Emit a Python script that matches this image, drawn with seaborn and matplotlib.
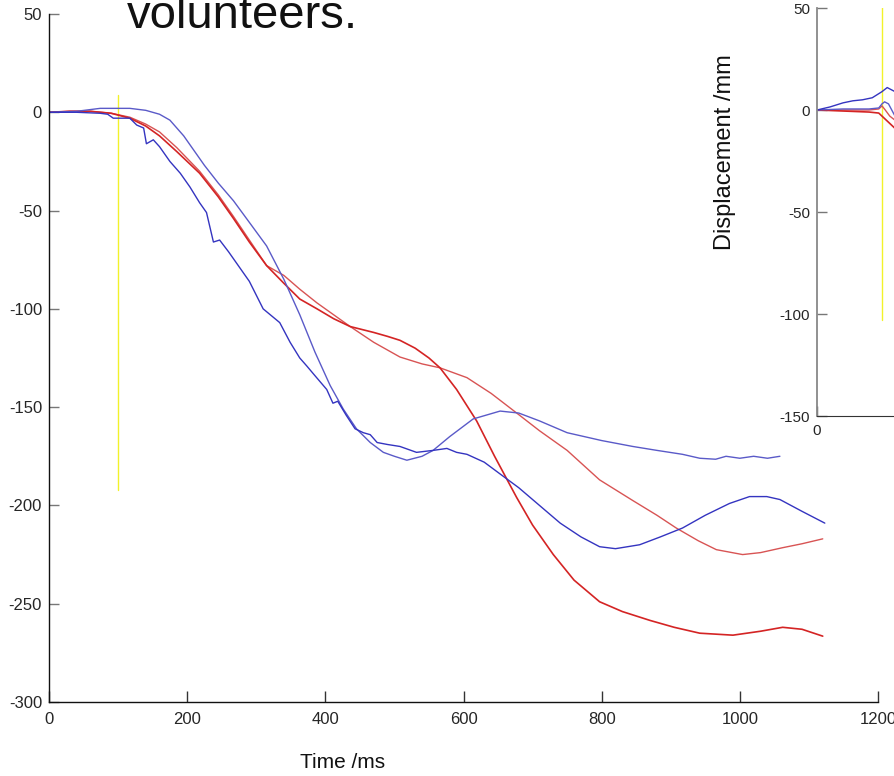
import numpy as np
import pandas as pd
import matplotlib
matplotlib.use("Agg")
import matplotlib.pyplot as plt
import seaborn as sns

# ================================
# COLOURS
# ================================
BLUE = "#3434c0"
BLUE_LIGHT = "#5a5ac8"
RED = "#d42424"
RED_LIGHT = "#d85454"
YELLOW = "#f2f22a"

# ================================
# DATA - main panel (time ms / displacement mm)
# ================================
blue_a_t = [0, 40, 74, 100, 117, 140, 160, 175, 195, 209, 225, 245, 267, 290, 315, 340,
            363, 385, 407, 426, 445, 465, 484, 500, 518, 540, 556, 580, 614, 653, 680, 710,
            750, 800, 845, 880, 917, 942, 965, 980, 1000, 1020, 1040, 1058]
blue_a_v = [0, 0.5, 2, 2, 2, 1, -1, -4, -12, -19, -27, -36, -45, -56, -68, -85,
            -103, -122, -139, -151, -161, -168, -173, -175, -177, -175, -172, -165, -156, -152, -153, -157,
            -163, -167, -170, -172, -174, -176, -176.5, -175, -176, -175, -176, -175]

blue_b_t = [0, 40, 74, 85, 93, 117, 127, 137, 141, 151, 160, 175, 190, 204, 218, 228, 238, 247,
            260, 272, 290, 310, 334, 349, 363, 373, 385, 402, 411, 418, 430, 443, 455, 465, 475,
            490, 508, 532, 556, 576, 590, 605, 630, 653, 680, 710, 740, 770, 797, 820, 855, 885,
            917, 950, 985, 1014, 1039, 1058, 1090, 1123]
blue_b_v = [0, 0, -0.5, -1, -3, -3, -6.5, -8, -16, -14, -17.5, -25, -31, -38, -46, -51, -66, -65,
            -71, -77, -86, -100, -107, -117, -125, -129, -134, -141, -148, -147, -154, -161, -163, -164, -168,
            -169, -170, -173, -172, -171, -173, -174, -178, -184, -191, -200, -209, -216, -221, -222, -220, -216,
            -211.5, -205, -199, -195.5, -195.5, -197, -203, -209]

red_a_t = [0, 30, 60, 90, 117, 140, 160, 185, 218, 245, 267, 290, 315, 340, 363, 388, 412, 436,
           470, 490, 508, 530, 550, 566, 590, 619, 645, 677, 700, 730, 760, 797, 830, 870, 905,
           942, 990, 1030, 1062, 1090, 1120]
red_a_v = [0, 0.5, 0.5, -0.5, -3, -7, -12, -20, -31, -43, -54, -66, -78, -87, -95, -100, -105, -109,
           -112, -114, -116, -120, -125, -130, -141, -157, -175, -196, -210, -225, -238, -249, -254, -258.5, -262,
           -265, -266, -264, -262, -263, -266.5]

red_b_t = [0, 30, 60, 90, 117, 140, 160, 185, 218, 245, 267, 290, 315, 340, 363, 388, 412, 436,
           470, 508, 540, 566, 605, 640, 677, 710, 750, 797, 845, 880, 908, 940, 966, 1004,
           1030, 1062, 1090, 1120]
red_b_v = [0, 0.5, 0.5, -0.5, -2.5, -6, -10, -18, -30, -42, -53, -65, -78, -83, -90, -97, -103, -109,
           -117, -124.5, -128, -130, -135, -143, -153, -162, -172, -187, -197.5, -205, -211.5, -218, -222.5, -225,
           -224, -221.5, -219.5, -217]

yellow_t = [100, 100]
yellow_v = [9, -192]

# ================================
# DATA - inset panel (left edge only)
# ================================
in_blue_a_t = [0, 20, 40, 55, 70, 85, 95, 100, 108, 120, 130]
in_blue_a_v = [0, 1.5, 3.5, 4.5, 5, 6, 8, 9, 11, 9, 8]
in_blue_b_t = [0, 40, 80, 95, 100, 104, 110, 115, 120]
in_blue_b_v = [0, 0.5, 0.5, 1, 3, 4, 3, 0, -3]
in_red_a_t = [0, 40, 80, 95, 100, 110, 120]
in_red_a_v = [0, -0.5, -1, -1.5, -3, -6, -9]
in_red_b_t = [0, 40, 80, 95, 100, 105, 112, 120]
in_red_b_v = [0, 0, 0, 0.5, 2, 0, -3, -5]
in_yellow_t = [100, 100]
in_yellow_v = [56, -103]

xticks = [0, 200, 400, 600, 800, 1000, 1200]
yticks_main = [-300, -250, -200, -150, -100, -50, 0, 50]
yticks_inset = [-150, -100, -50, 0, 50]
inset_xticklabels = ["0", "", "", "", "", "", ""]

# ================================
# FIGURE
# ================================
sns.set_style("white")
plt.rcParams["font.family"] = ["Liberation Sans Narrow", "Liberation Sans", "DejaVu Sans"]
plt.rcParams["axes.unicode_minus"] = False

fig = plt.figure(figsize=(8.94, 7.76), dpi=100)

ax = fig.add_axes([49 / 894, 1 - 702 / 776, 829 / 894, 688 / 776])


def line(a, t, v, color, lw=1.0):
    sns.lineplot(x=t, y=v, ax=a, color=color, lw=lw, sort=False, estimator=None)


line(ax, yellow_t, yellow_v, YELLOW)
line(ax, red_b_t, red_b_v, RED_LIGHT)
line(ax, red_a_t, red_a_v, RED, 1.2)
line(ax, blue_a_t, blue_a_v, BLUE_LIGHT)
line(ax, blue_b_t, blue_b_v, BLUE)

ax.set_xlim(0, 1200)
ax.set_ylim(-300, 50)
ax.set_xticks(xticks)
ax.set_yticks(yticks_main)
ax.set_xlabel("")
ax.set_ylabel("")
for s in ["top", "right"]:
    ax.spines[s].set_visible(False)
for s in ["left", "bottom"]:
    ax.spines[s].set_color("#111111")
    ax.spines[s].set_linewidth(1.0)
ax.tick_params(axis="y", direction="in", length=7, width=1, color="#777777",
               labelsize=12, pad=5, left=True)
ax.tick_params(axis="x", direction="in", length=8, width=1, color="#333333",
               labelsize=12, pad=7, bottom=True)
ax.patch.set_alpha(0)

# inset (cut off by the right edge)
ax2 = fig.add_axes([817 / 894, 1 - 416 / 776, 780 / 894, 408 / 776])
line(ax2, in_yellow_t, in_yellow_v, YELLOW)
line(ax2, in_red_b_t, in_red_b_v, RED_LIGHT)
line(ax2, in_red_a_t, in_red_a_v, RED, 1.2)
line(ax2, in_blue_b_t, in_blue_b_v, BLUE_LIGHT)
line(ax2, in_blue_a_t, in_blue_a_v, BLUE)
ax2.set_xlim(0, 1200)
ax2.set_ylim(-150, 50)
ax2.set_xticks(xticks)
ax2.set_xticklabels(inset_xticklabels)
ax2.set_yticks(yticks_inset)
ax2.set_xlabel("")
ax2.set_ylabel("")
for s in ["top", "right"]:
    ax2.spines[s].set_visible(False)
ax2.spines["left"].set_color("#888888")
ax2.spines["left"].set_linewidth(1.3)
ax2.spines["bottom"].set_color("#333333")
ax2.tick_params(axis="y", direction="in", length=7, width=1, color="#777777",
                labelsize=11, pad=5, left=True, labelfontfamily="Liberation Sans")
ax2.tick_params(axis="x", direction="in", length=7, width=1, color="#555555",
                labelsize=11, pad=6, bottom=True, labelfontfamily="Liberation Sans")
ax2.set_facecolor("white")

# slide texts
fig.text(127 / 894, 1 - 28 / 776, "volunteers.", fontsize=34, va="baseline", ha="left",
         family="Liberation Sans", color="#111111")
fig.text(343 / 894, 1 - 762 / 776, "Time /ms", fontsize=15, va="center", ha="center",
         family="Liberation Sans", color="#111111")
fig.text(725 / 894, 1 - 152 / 776, "Displacement /mm", fontsize=17, rotation=90,
         va="center", ha="center", family="Liberation Sans", color="#111111")

fig.savefig("out.png", dpi=100)
